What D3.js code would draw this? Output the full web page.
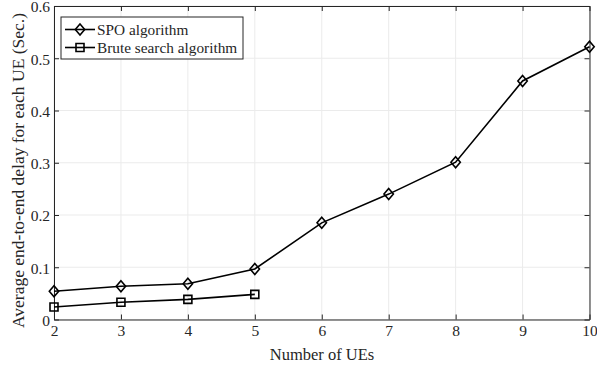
<!DOCTYPE html>
<html>
<head>
<meta charset="utf-8">
<script src="https://cdn.jsdelivr.net/npm/d3@7"></script>
<style>
  body { margin: 0; background: #fff; }
  svg text { font-family: 'Liberation Serif', 'Times New Roman', serif !important; fill: #262626; }
</style>
</head>
<body>
<div id="chart"></div>
<script>
const width = 597;
const height = 369;
const marginLeft = 54;
const marginRight = 7.5;
const marginTop = 6;
const marginBottom = 49.5;
const serif = "'Liberation Serif', 'Times New Roman', serif";

const numUEs = [2, 3, 4, 5, 6, 7, 8, 9, 10];
const spoDelay = [0.054, 0.0635, 0.0685, 0.0966, 0.185, 0.240, 0.301, 0.4565, 0.522];
const bruteUEs = [2, 3, 4, 5];
const bruteDelay = [0.024, 0.033, 0.0386, 0.048];
const xTicks = [2, 3, 4, 5, 6, 7, 8, 9, 10];
const yTicks = [0, 0.1, 0.2, 0.3, 0.4, 0.5, 0.6];

var svg = d3.select("#chart").append("svg")
    .attr("width", width)
    .attr("height", height);

const x = d3.scaleLinear()
    .domain([2, 10])
    .range([marginLeft, width - marginRight]);

const y = d3.scaleLinear()
    .domain([0, 0.6])
    .range([height - marginBottom, marginTop]);

// grid
svg.append("g")
    .selectAll("line")
    .data(xTicks)
    .enter().append("line")
    .attr("x1", d => x(d)).attr("x2", d => x(d))
    .attr("y1", marginTop).attr("y2", height - marginBottom)
    .attr("stroke", "#ebebeb").attr("stroke-width", 1);

svg.append("g")
    .selectAll("line")
    .data(yTicks)
    .enter().append("line")
    .attr("y1", d => y(d)).attr("y2", d => y(d))
    .attr("x1", marginLeft).attr("x2", width - marginRight)
    .attr("stroke", "#ebebeb").attr("stroke-width", 1);

// axes (MATLAB box style, ticks inward)
function styleAxis(g) {
    g.attr("font-family", null);
    g.selectAll("path").attr("stroke", "#262626").attr("stroke-width", 1);
    g.selectAll("line").attr("stroke", "#262626");
    g.selectAll("text")
        .style("font-family", serif)
        .style("font-size", "15.5px")
        .attr("fill", "#262626");
}

svg.append("g")
    .attr("transform", `translate(0,${height - marginBottom})`)
    .call(d3.axisBottom(x).tickValues(xTicks).tickSize(-5).tickSizeOuter(0).tickPadding(5))
    .call(styleAxis);

svg.append("g")
    .attr("transform", `translate(0,${marginTop})`)
    .call(d3.axisTop(x).tickValues(xTicks).tickSize(-5).tickSizeOuter(0).tickFormat(""))
    .call(styleAxis);

svg.append("g")
    .attr("transform", `translate(${marginLeft},0)`)
    .call(d3.axisLeft(y).tickValues(yTicks).tickSize(-5).tickSizeOuter(0).tickPadding(4).tickFormat(d => d === 0 ? "0" : d3.format(".1f")(d)))
    .call(styleAxis)
    .call(g => g.selectAll("text").attr("dy", "0.38em"));

svg.append("g")
    .attr("transform", `translate(${width - marginRight},0)`)
    .call(d3.axisRight(y).tickValues(yTicks).tickSize(-5).tickSizeOuter(0).tickFormat(""))
    .call(styleAxis);

// lines
const line = d3.line()
    .x(d => x(d[0]))
    .y(d => y(d[1]));

const spoData = numUEs.map((u, i) => [u, spoDelay[i]]);
const bruteData = bruteUEs.map((u, i) => [u, bruteDelay[i]]);

svg.append("path")
    .datum(spoData)
    .attr("d", line)
    .attr("fill", "none")
    .attr("stroke", "#000")
    .attr("stroke-width", 1.6);

svg.append("path")
    .datum(bruteData)
    .attr("d", line)
    .attr("fill", "none")
    .attr("stroke", "#000")
    .attr("stroke-width", 1.6);

const diamond = "M0,-5.5L4.7,0L0,5.5L-4.7,0Z";
const square = "M-4,-4L4,-4L4,4L-4,4Z";

svg.append("g")
    .selectAll("path")
    .data(spoData)
    .enter().append("path")
    .attr("d", diamond)
    .attr("transform", d => `translate(${x(d[0])},${y(d[1])})`)
    .attr("fill", "none")
    .attr("stroke", "#000")
    .attr("stroke-width", 1.6);

svg.append("g")
    .selectAll("path")
    .data(bruteData)
    .enter().append("path")
    .attr("d", square)
    .attr("transform", d => `translate(${x(d[0])},${y(d[1])})`)
    .attr("fill", "none")
    .attr("stroke", "#000")
    .attr("stroke-width", 1.6);

// axis labels
svg.append("text")
    .attr("x", 322)
    .attr("y", 359.5)
    .text("Number of UEs")
    .style("font-family", serif)
    .style("font-size", "16.5px")
    .style("text-anchor", "middle");

svg.append("text")
    .attr("transform", "translate(23.5,170.5) rotate(-90)")
    .text("Average end-to-end delay for each UE (Sec.)")
    .style("font-family", serif)
    .style("font-size", "17.5px")
    .style("text-anchor", "middle");

// legend
const legend = svg.append("g").attr("transform", "translate(61,17)");
legend.append("rect")
    .attr("width", 182).attr("height", 42)
    .attr("fill", "#fff").attr("stroke", "#262626").attr("stroke-width", 1);

const legendItems = [
    { label: "SPO algorithm", marker: diamond },
    { label: "Brute search algorithm", marker: square }
];

legendItems.forEach((item, i) => {
    const gy = 12.5 + i * 18;
    legend.append("line")
        .attr("x1", 4).attr("x2", 34)
        .attr("y1", gy).attr("y2", gy)
        .attr("stroke", "#000").attr("stroke-width", 1.6);
    legend.append("path")
        .attr("d", item.marker)
        .attr("transform", `translate(19,${gy})`)
        .attr("fill", "none").attr("stroke", "#000").attr("stroke-width", 1.6);
    legend.append("text")
        .attr("x", 36).attr("y", gy + 5)
        .text(item.label)
        .style("font-family", serif)
        .style("font-size", "15.3px");
});
</script>
</body>
</html>
